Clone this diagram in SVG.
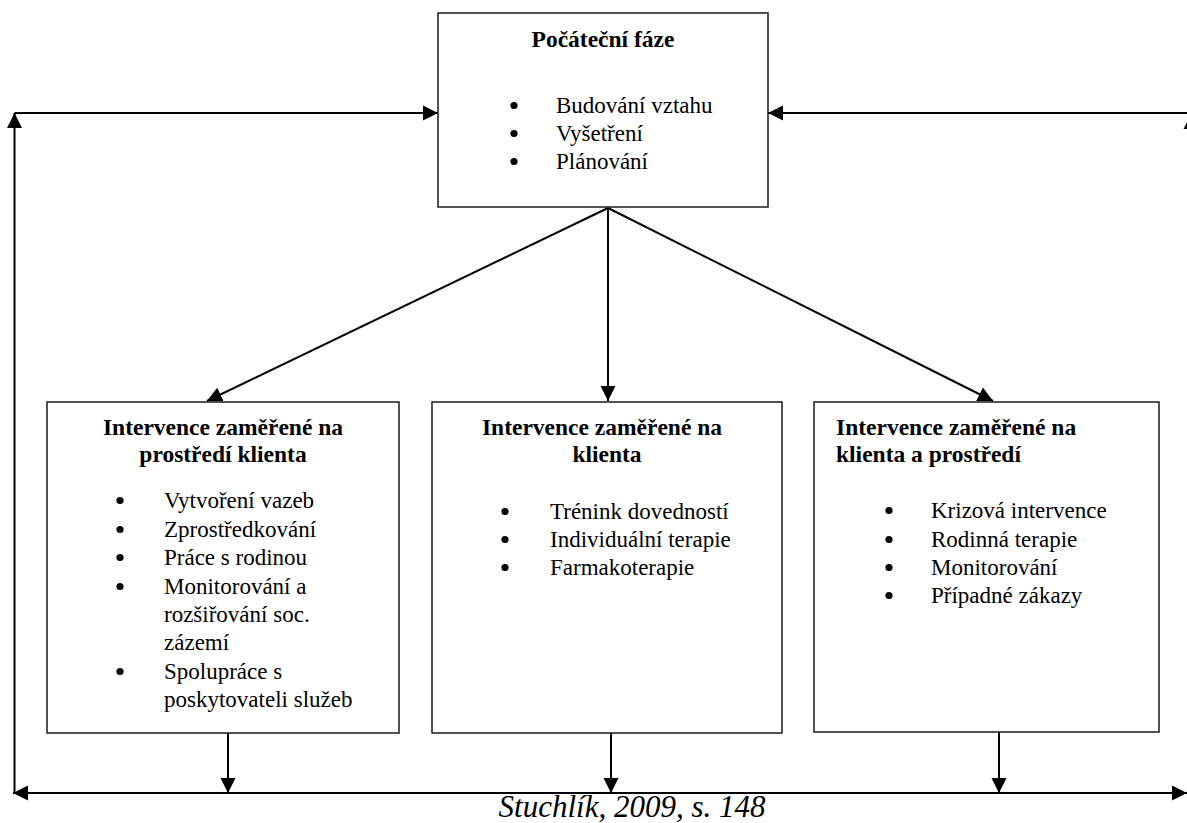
<svg xmlns="http://www.w3.org/2000/svg" width="1187" height="823" viewBox="0 0 1187 823">
<style>
.box{fill:#fff;stroke:#1a1a1a;stroke-width:1.5}
.t{font-family:"Liberation Serif","Times New Roman",serif;font-size:23px;fill:#000}
.b{font-weight:bold;font-size:23.5px}
.d{fill:#000}
.c{stroke:#000;stroke-width:2;fill:none}
.cap{font-family:"Liberation Serif","Times New Roman",serif;font-style:italic;font-size:31px;fill:#000}
</style>
<defs>
<marker id="ah" markerUnits="userSpaceOnUse" markerWidth="16" markerHeight="16" refX="15" refY="7.5" orient="auto-start-reverse" viewBox="0 0 16 15">
<path d="M0,0 L15,7.5 L0,15 Z" fill="#000"/>
</marker>
</defs>
<g id="connectors">
<line class="c" x1="608" y1="208" x2="207" y2="401" marker-end="url(#ah)"/>
<line class="c" x1="608" y1="208" x2="608" y2="401" marker-end="url(#ah)"/>
<line class="c" x1="608" y1="208" x2="993" y2="401" marker-end="url(#ah)"/>
<line class="c" x1="14.5" y1="793" x2="14.5" y2="113" marker-end="url(#ah)"/>
<line class="c" x1="14.5" y1="113" x2="438" y2="113" marker-end="url(#ah)"/>
<line class="c" x1="1191" y1="113" x2="768" y2="113" marker-end="url(#ah)"/>
<line class="c" x1="1191" y1="793" x2="1191" y2="114" marker-end="url(#ah)"/>
<line class="c" x1="13" y1="793" x2="1187" y2="793" marker-start="url(#ah)" marker-end="url(#ah)"/>
<line class="c" x1="228" y1="733" x2="228" y2="793" marker-end="url(#ah)"/>
<line class="c" x1="611" y1="733" x2="611" y2="793" marker-end="url(#ah)"/>
<line class="c" x1="999" y1="732" x2="999" y2="793" marker-end="url(#ah)"/>
</g>
<g id="node-pocatecni">
<rect class="box" x="438" y="13" width="330" height="194"/>
<text class="t b" x="603" y="47" text-anchor="middle">Počáteční fáze</text>
<circle class="d" cx="514" cy="105.5" r="3.6"/>
<circle class="d" cx="514" cy="133.5" r="3.6"/>
<circle class="d" cx="514" cy="161.5" r="3.6"/>
<text class="t" x="556" y="113">Budování vztahu</text>
<text class="t" x="556" y="141">Vyšetření</text>
<text class="t" x="556" y="169">Plánování</text>
</g>
<g id="node-prostredi">
<rect class="box" x="47" y="402" width="352" height="331"/>
<text class="t b" x="223" y="435" text-anchor="middle">Intervence zaměřené na</text>
<text class="t b" x="223" y="462" text-anchor="middle">prostředí klienta</text>
<circle class="d" cx="120" cy="500.5" r="3.6"/>
<circle class="d" cx="120" cy="529.5" r="3.6"/>
<circle class="d" cx="120" cy="557.5" r="3.6"/>
<circle class="d" cx="120" cy="586.5" r="3.6"/>
<circle class="d" cx="120" cy="671.5" r="3.6"/>
<text class="t" x="164" y="508">Vytvoření vazeb</text>
<text class="t" x="164" y="537">Zprostředkování</text>
<text class="t" x="164" y="565">Práce s rodinou</text>
<text class="t" x="164" y="594">Monitorování a</text>
<text class="t" x="164" y="622">rozšiřování soc.</text>
<text class="t" x="164" y="650">zázemí</text>
<text class="t" x="164" y="679">Spolupráce s</text>
<text class="t" x="164" y="707">poskytovateli služeb</text>
</g>
<g id="node-klient">
<rect class="box" x="432" y="402" width="350" height="331"/>
<text class="t b" x="602" y="435" text-anchor="middle">Intervence zaměřené na</text>
<text class="t b" x="607" y="462" text-anchor="middle">klienta</text>
<circle class="d" cx="505" cy="511.5" r="3.6"/>
<circle class="d" cx="505" cy="539.5" r="3.6"/>
<circle class="d" cx="505" cy="567.5" r="3.6"/>
<text class="t" x="550" y="519">Trénink dovedností</text>
<text class="t" x="550" y="547">Individuální terapie</text>
<text class="t" x="550" y="575">Farmakoterapie</text>
</g>
<g id="node-klient-prostredi">
<rect class="box" x="814" y="402" width="345" height="330"/>
<text class="t b" x="836" y="435">Intervence zaměřené na</text>
<text class="t b" x="836" y="462">klienta a prostředí</text>
<circle class="d" cx="889" cy="510.5" r="3.6"/>
<circle class="d" cx="889" cy="539.5" r="3.6"/>
<circle class="d" cx="889" cy="567.5" r="3.6"/>
<circle class="d" cx="889" cy="595.5" r="3.6"/>
<text class="t" x="931" y="518">Krizová intervence</text>
<text class="t" x="931" y="547">Rodinná terapie</text>
<text class="t" x="931" y="575">Monitorování</text>
<text class="t" x="931" y="603">Případné zákazy</text>
</g>
<text class="cap" x="632" y="817" text-anchor="middle">Stuchlík, 2009, s. 148</text>
</svg>
